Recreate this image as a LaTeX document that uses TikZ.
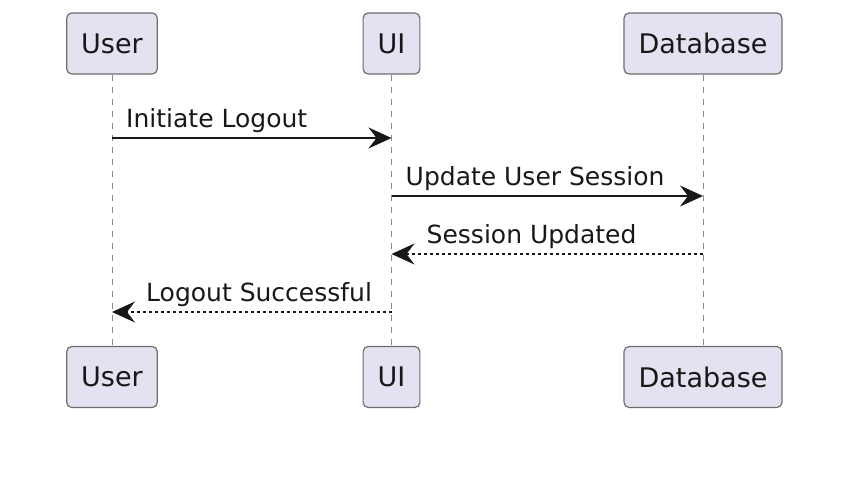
\documentclass[tikz,border=0pt]{standalone}
\usepackage{fontspec}
\setmainfont{DejaVu Sans}
\usetikzlibrary{arrows.meta, positioning, calc}
\definecolor{ActorFill}{HTML}{E2E2F0}
\definecolor{ActorLine}{HTML}{6E6E6E}
\definecolor{MsgLine}{HTML}{181818}

\begin{document}
\begin{tikzpicture}[x=1pt, y=-1pt,
    actor/.style={
      rectangle, rounded corners=5pt, draw=ActorLine, fill=ActorFill, line width=1.2pt,
      minimum height=61pt, inner xsep=14.5pt, font=\fontsize{27}{32}\selectfont, text=MsgLine
    },
    lifeline/.style={draw=ActorLine!80, line width=1pt, dash pattern=on 6pt off 6pt},
    msg/.style={-{Stealth[length=23pt, width=21pt, inset=8pt]}, draw=MsgLine, line width=1.4pt},
    reply/.style={msg, dash pattern=on 3pt off 3pt},
    msglabel/.style={anchor=base west, font=\fontsize{25}{30}\selectfont, text=MsgLine, inner sep=0pt}
  ]
    \useasboundingbox (0,0) rectangle (846,482);

    % participants
    \node[actor] (userTop) at (112,43.5) {User};
    \node[actor] (uiTop) at (391.5,43.5) {UI};
    \node[actor] (dbTop) at (703,43.5) {Database};
    \node[actor] (userBot) at (112,377) {User};
    \node[actor] (uiBot) at (391.5,377) {UI};
    \node[actor] (dbBot) at (703,377) {Database};

    % lifelines
    \draw[lifeline] (userTop) -- (userBot);
    \draw[lifeline] (uiTop) -- (uiBot);
    \draw[lifeline] (dbTop) -- (dbBot);

    % message points
    \coordinate (u1) at (112,138);
    \coordinate (i1) at (391.5,138);
    \coordinate (i2) at (391.5,196);
    \coordinate (d2) at (703,196);
    \coordinate (d3) at (703,254);
    \coordinate (i3) at (391.5,254);
    \coordinate (i4) at (391.5,312);
    \coordinate (u4) at (112,312);

    \draw[msg] (u1) -- (i1);
    \node[msglabel] (l1) at ($(u1)+(14,-11)$) {Initiate Logout};
    \draw[msg] (i2) -- (d2);
    \node[msglabel] (l2) at ($(i2)+(14,-11)$) {Update User Session};
    \draw[reply] (d3) -- (i3);
    \node[msglabel] (l3) at ($(i3)+(35,-11)$) {Session Updated};
    \draw[reply] (i4) -- (u4);
    \node[msglabel] (l4) at ($(u4)+(34,-11)$) {Logout Successful};
  \end{tikzpicture}
\end{document}
